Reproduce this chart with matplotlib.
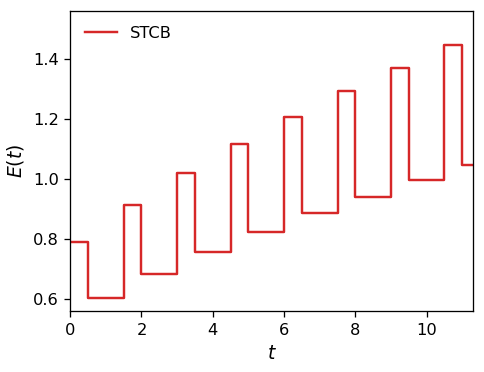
import matplotlib
matplotlib.use("Agg")
import matplotlib.pyplot as plt

t_edges = [0, 0.5, 1.5, 2, 3, 3.5, 4.5, 5, 6, 6.5, 7.5, 8, 9, 9.5, 10.5, 11, 11.3]
E_vals = [0.792, 0.606, 0.914, 0.686, 1.021, 0.758, 1.119, 0.824, 1.209, 0.886,
          1.293, 0.941, 1.371, 0.996, 1.446, 1.047, 1.047]

DPI = 117
fig, ax = plt.subplots(figsize=(484 / DPI, 372 / DPI), dpi=DPI)
ax.step(t_edges, E_vals, where='post', color='#d62728', lw=1.5, label='STCB')
ax.set_xlim(0, 11.31)
ax.set_ylim(0.56, 1.56)
ax.set_xticks([0, 2, 4, 6, 8, 10])
ax.set_yticks([0.6, 0.8, 1.0, 1.2, 1.4])
ax.tick_params(labelsize=10)
ax.set_xlabel('$t$', fontsize=11.5)
ax.set_ylabel('$E(t)$', fontsize=11.5)
ax.legend(loc='upper left', frameon=False, fontsize=10)
fig.subplots_adjust(left=0.145, right=0.978, top=0.97, bottom=0.163)
fig.savefig('out.png', dpi=DPI)
